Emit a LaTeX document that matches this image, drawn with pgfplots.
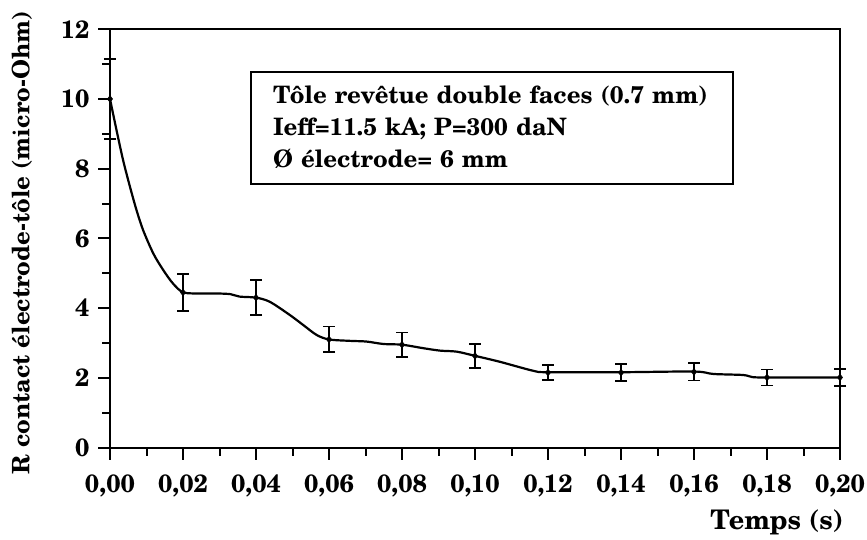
\documentclass[border=0pt]{standalone}
\usepackage{pgfplots}
\pgfplotsset{compat=1.18}
\usepackage{fontspec}
\setmainfont{TeX Gyre Schola}
\begin{document}
\begin{tikzpicture}
\useasboundingbox (0,0) rectangle (867pt,539pt);
\begin{axis}[
 at={(110pt,91.5pt)}, anchor=south west,
 scale only axis, width=730pt, height=418.2pt,
 xmin=0, xmax=0.2, ymin=0, ymax=12,
 clip=false,
 axis line style={line width=2pt},
 xtick={0,0.02,0.04,0.06,0.08,0.1,0.12,0.14,0.16,0.18,0.2},
 xticklabels={{0,00},{0,02},{0,04},{0,06},{0,08},{0,10},{0,12},{0,14},{0,16},{0,18},{0,20}},
 ytick={0,2,4,6,8,10,12},
 minor x tick num=1, minor y tick num=1,
 tick align=outside, tick pos=left,
 major tick length=12pt, minor tick length=8pt,
 every tick/.style={line width=2pt, black},
 /pgf/number format/assume math mode=true,
 tick label style={font=\bfseries\fontsize{25}{25}\selectfont},
 xticklabel style={yshift=-12pt},
 yticklabel style={xshift=-5pt},
 xlabel={Temps (s)},
 ylabel={R contact électrode-tôle (micro-Ohm)},
 every axis x label/.style={at={(rel axis cs:1.005,-0.178)}, anchor=east, inner xsep=0pt, font=\bfseries\fontsize{27}{27}\selectfont},
 every axis y label/.style={at={(rel axis cs:-0.1205,0.49)}, rotate=90, anchor=center, font=\bfseries\fontsize{24}{24}\selectfont},
]
\addplot[black, line width=2.2pt, smooth, tension=0.5] coordinates {
 (0,10) (0.0018,9.1) (0.0036,8.24) (0.0055,7.47) (0.0073,6.8) (0.0091,6.23)
 (0.0119,5.56) (0.0146,5.09) (0.0173,4.7) (0.0201,4.45) (0.0247,4.42) (0.0292,4.42)
 (0.033,4.40) (0.0355,4.33) (0.04,4.30) (0.0438,4.18) (0.0493,3.80) (0.053,3.51)
 (0.0566,3.23) (0.06,3.10) (0.0658,3.06) (0.0703,3.04) (0.0749,2.97) (0.08,2.95)
 (0.0858,2.85) (0.0904,2.78) (0.095,2.75) (0.10,2.63) (0.1068,2.46) (0.116,2.20)
 (0.12,2.16) (0.14,2.16) (0.16,2.18) (0.1653,2.11) (0.1735,2.08) (0.176,2.02)
 (0.18,2.01) (0.20,2.01)
};
\addplot[black, only marks, mark=diamond*, mark size=3.5pt,
 error bars/.cd, y dir=both, y explicit,
 error bar style={line width=1.8pt},
 error mark options={rotate=90, mark size=6pt, line width=1.8pt}]
 table[x=x, y=y, y error=e] {
 x y e
 0 10 1.15
 0.02 4.45 0.53
 0.04 4.30 0.50
 0.06 3.10 0.37
 0.08 2.95 0.35
 0.10 2.63 0.34
 0.12 2.15 0.22
 0.14 2.15 0.25
 0.16 2.17 0.25
 0.18 2.01 0.23
 0.20 2.01 0.25
};
\node[draw, line width=1.8pt, anchor=north west, minimum width=482pt, minimum height=112pt,
 text width=438pt, inner xsep=22pt, align=left,
 font=\bfseries\fontsize{24}{32}\selectfont] at (rel axis cs:0.192,0.901)
 {\mbox{Tôle revêtue double faces (0.7 mm)}\\ \mbox{Ieff=11.5 kA; P=300 daN}\\ \mbox{Ø électrode= 6 mm}};
\end{axis}
\end{tikzpicture}
\end{document}
